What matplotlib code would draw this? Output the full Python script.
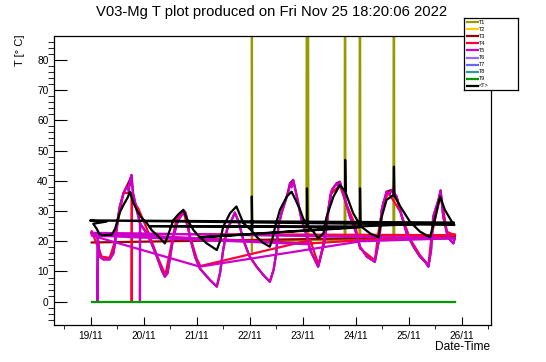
import matplotlib
matplotlib.use('Agg')
import matplotlib.pyplot as plt
from matplotlib.lines import Line2D

plt.rcParams['font.family'] = ['Liberation Sans', 'DejaVu Sans']

title_text = "V03-Mg T plot produced on Fri Nov 25 18:20:06 2022"
x_title = "Date-Time"
y_title = "T [\u00b0 C]"
x_tick_days = [0, 1, 2, 3, 4, 5, 6, 7]
x_tick_labels = ["19/11", "20/11", "21/11", "22/11", "23/11", "24/11", "25/11", "26/11"]
y_ticks = [0, 10, 20, 30, 40, 50, 60, 70, 80]

series_names = ["T1", "T2", "T3", "T4", "T5", "T6", "T7", "T8", "T9", "<T>"]
series_colors = ["#999900", "#ffcc00", "#990000", "#ff0033", "#cc00cc",
                 "#9966ff", "#6666ff", "#339999", "#009900", "#000000"]

# days since 19/11 00:00, in recorded (drawing) order
t1_day = [3.04, 3.04, 3.045, 4.07, 4.08, 4.085, 4.10, 4.105, 4.79, 4.80, 4.805,
          5.07, 5.08, 5.085, 5.71, 5.72, 5.725, 6.87]
t1_val = [16.6, 200.0, 20.2, 20.3, 200.0, 20.3, 200.0, 20.4, 20.5, 200.0, 20.5,
          20.6, 200.0, 20.6, 20.8, 200.0, 20.8, 21.0]

t2_day = []
t2_val = []

t3_day = [0.02, 0.11, 0.14, 0.175, 0.24, 0.36, 0.43, 0.46, 0.49, 0.55, 0.62, 0.68,
          0.74, 0.77, 0.80, 0.87, 0.93, 1.06, 1.15, 1.25, 1.34, 1.40, 1.45, 1.50,
          1.56, 1.65, 1.72, 1.78, 1.81, 1.87, 1.97, 2.06, 2.25, 2.38, 2.44, 2.50,
          2.57, 2.66, 2.72, 2.79, 2.88, 3.00, 3.13, 3.26, 3.38, 3.45, 3.50, 3.54,
          3.60, 3.70, 3.76, 3.82, 3.89, 3.98, 4.08, 4.14, 4.23, 4.29, 4.42, 4.48,
          4.55, 4.64, 4.70, 4.80, 4.89, 4.99, 5.08, 5.21, 5.36, 5.45, 5.49, 5.58,
          5.68, 5.77, 5.87, 5.96, 6.09, 6.21, 6.31, 6.37, 6.42, 6.46, 6.56, 6.60,
          6.65, 6.72, 6.78, 6.84, 6.87, 0.02]
t3_val = [22.8, 22.4, 20.4, 14.9, 14.0, 14.0, 16.0, 19.3, 24.8, 31.4, 35.9, 38.1,
          40.3, 41.9, 35.9, 30.4, 26.0, 22.6, 19.3, 14.9, 10.5, 8.3, 9.4, 14.9,
          21.5, 27.0, 28.7, 29.8, 28.1, 21.5, 14.9, 11.0, 7.2, 5.0, 9.4, 17.1,
          23.7, 27.0, 29.5, 26.5, 20.4, 14.9, 11.6, 8.8, 6.6, 10.5, 16.0, 24.8,
          29.3, 34.8, 39.2, 40.3, 34.8, 27.0, 21.5, 17.1, 13.8, 11.6, 20.4, 30.4,
          37.0, 39.2, 39.7, 33.7, 28.1, 23.7, 18.2, 14.9, 13.2, 21.5, 30.4, 36.4,
          37.0, 34.8, 28.1, 22.6, 18.2, 14.9, 13.2, 11.6, 17.1, 28.1, 33.7, 36.8,
          28.1, 22.6, 20.4, 19.3, 21.5, 19.6]

t4_day = [0.02, 0.21, 0.36, 0.46, 0.52, 0.62, 0.77, 0.775, 0.775, 0.78, 0.90, 1.06,
          1.25, 1.41, 1.50, 1.62, 1.75, 1.87, 2.00, 2.07,
          4.14, 4.30, 4.45, 4.52, 4.70, 4.83, 4.99, 5.08, 5.36, 5.43, 5.52, 5.62,
          5.84, 6.02, 6.21, 6.37, 6.43, 6.60, 6.72, 6.87,
          0.01, 4.14, 6.87]
t4_val = [23.3, 14.9, 14.5, 20.0, 27.0, 36.0, 36.0, 35.5, 0.0, 34.0, 30.8, 24.2,
          15.4, 8.8, 16.8, 27.5, 30.0, 22.0, 14.3, 11.8,
          20.4, 12.1, 24.3, 35.5, 38.5, 32.0, 25.3, 17.6, 13.7, 23.2, 33.0, 36.0,
          29.8, 20.9, 15.4, 12.1, 22.0, 35.5, 23.1, 22.0,
          22.5, 19.3, 22.2]

t5_day = [0.02, 0.11, 0.13, 0.13, 0.14, 0.175, 0.24, 0.36, 0.43, 0.46, 0.49, 0.55,
          0.62, 0.68, 0.72, 0.74, 0.76, 0.77, 0.80, 0.87, 0.93, 0.93, 0.935, 1.06,
          1.15, 1.25, 1.34, 1.40, 1.45, 1.50, 1.56, 1.65, 1.72, 1.78, 1.81, 1.87,
          1.97, 2.06, 2.25, 2.38, 2.44, 2.50, 2.57, 2.66, 2.72, 2.79, 2.88, 3.00,
          3.13, 3.26, 3.38, 3.45, 3.50, 3.54, 3.60, 3.70, 3.74, 3.76, 3.79, 3.82,
          3.89, 3.98, 4.08, 4.14, 4.23, 4.29, 4.42, 4.48, 4.55, 4.64, 4.67, 4.70,
          4.80, 4.89, 4.99, 5.08, 5.21, 5.36, 5.45, 5.49, 5.58, 5.64, 5.68, 5.77,
          5.87, 5.96, 6.09, 6.21, 6.31, 6.37, 6.42, 6.46, 6.56, 6.60, 6.65, 6.72,
          6.78, 6.84, 6.87,
          0.01, 4.12, 0.02, 2.06, 5.10, 6.86]
t5_val = [22.8, 22.4, 21.8, 0.0, 20.4, 14.9, 14.0, 14.0, 16.0, 19.3, 24.8, 31.4,
          35.9, 38.1, 36.5, 40.3, 38.5, 41.9, 35.9, 30.4, 26.0, 0.0, 25.8, 22.6,
          19.3, 14.9, 10.5, 8.3, 9.4, 14.9, 21.5, 27.0, 28.7, 29.8, 28.1, 21.5,
          14.9, 11.0, 7.2, 5.0, 9.4, 17.1, 23.7, 27.0, 29.5, 26.5, 20.4, 14.9,
          11.6, 8.8, 6.6, 10.5, 16.0, 24.8, 29.3, 34.8, 37.0, 39.2, 37.8, 40.3,
          34.8, 27.0, 21.5, 17.1, 13.8, 11.6, 20.4, 30.4, 37.0, 39.2, 37.8, 39.7,
          33.7, 28.1, 23.7, 18.2, 14.9, 13.2, 21.5, 30.4, 36.4, 35.5, 37.0, 34.8,
          28.1, 22.6, 18.2, 14.9, 13.2, 11.6, 17.1, 28.1, 33.7, 36.8, 28.1, 22.6,
          20.4, 19.3, 21.0,
          22.8, 19.0, 21.9, 11.6, 20.0, 21.0]

t6_day, t6_val = [], []
t7_day, t7_val = [], []
t8_day, t8_val = [], []

t9_day = [0.02, 6.88]
t9_val = [0.0, 0.0]

avg_day = [0.00, 0.30, 0.05, 0.12, 0.16, 0.22, 0.40, 0.46, 0.55, 0.62, 0.70, 0.74,
           0.80, 0.87, 0.95, 1.06, 1.16, 1.25, 1.40, 1.46, 1.56, 1.66, 1.75, 1.81,
           1.94, 2.05, 2.19, 2.38, 2.44, 2.50, 2.63, 2.75, 2.88, 3.04, 3.04, 3.05,
           3.13, 3.25, 3.38, 3.43, 3.48, 3.57, 3.70, 3.79, 3.87, 3.95, 4.01, 4.08,
           4.08, 4.09, 4.20, 4.29, 4.39, 4.45, 4.58, 4.70, 4.80, 4.80, 4.81, 4.95,
           5.08, 5.08, 5.09, 5.27, 5.43, 5.49, 5.58, 5.71, 5.72, 5.73, 5.84, 6.02,
           6.21, 6.40, 6.50, 6.59, 6.68, 6.81, 6.86,
           0.00, 6.85, 5.06, 1.10, 5.07, 2.06, 5.08]
avg_val = [26.8, 26.5, 25.8, 24.0, 22.5, 22.0, 22.2, 24.0, 29.5, 32.0, 34.5, 36.4,
           33.0, 30.4, 28.0, 26.0, 23.5, 22.1, 19.3, 22.0, 27.0, 29.0, 30.4, 27.6,
           23.7, 21.5, 19.3, 17.1, 20.0, 24.8, 29.3, 31.5, 26.0, 23.5, 34.8, 23.2,
           21.5, 19.5, 18.2, 21.0, 24.8, 30.4, 34.8, 36.4, 33.5, 30.4, 27.5, 25.5,
           37.5, 25.0, 23.2, 21.0, 22.6, 28.1, 34.8, 38.6, 36.5, 46.9, 36.0, 29.3,
           25.4, 37.5, 25.0, 22.6, 21.3, 28.1, 33.7, 35.3, 44.7, 35.0, 31.5, 26.5,
           23.2, 21.3, 28.1, 34.8, 30.4, 26.5, 25.4,
           26.9, 26.2, 24.9, 25.0, 24.6, 21.3, 24.8]

all_days = [t1_day, t2_day, t3_day, t4_day, t5_day, t6_day, t7_day, t8_day, t9_day, avg_day]
all_vals = [t1_val, t2_val, t3_val, t4_val, t5_val, t6_val, t7_val, t8_val, t9_val, avg_val]

W, H = 546, 362
fig = plt.figure(figsize=(W / 100, H / 100), dpi=100)
ax = fig.add_axes([54 / W, (H - 325) / H, 437 / W, 289 / H])

for d, v, c in zip(all_days, all_vals, series_colors):
    ax.plot(d, v, color=c, lw=1.6)

ax.set_xlim(-0.69, 7.55)
ax.set_ylim(-7.7, 87.9)
ax.set_xticks(x_tick_days)
ax.set_xticklabels(x_tick_labels)
ax.set_xticks([d + 0.5 for d in range(-1, 8)], minor=True)
ax.set_yticks(y_ticks)
ax.set_yticks(list(range(-6, 88, 2)), minor=True)
ax.tick_params(axis='both', direction='in', labelsize=7.3, colors='black', width=0.8)
ax.tick_params(axis='x', which='major', length=6, pad=4)
ax.tick_params(axis='x', which='minor', length=3)
ax.tick_params(axis='y', which='major', length=9, pad=4)
ax.tick_params(axis='y', which='minor', length=4.5)
ax.tick_params(top=False, right=False, which='both')
for s in ax.spines.values():
    s.set_linewidth(0.9)

fig.text(272 / W, 1 - 12 / H, title_text, ha='center', va='center', fontsize=10.6)
fig.text(20 / W, 1 - 35 / H, y_title, ha='center', va='top', rotation=90, fontsize=8)
fig.text(490 / W, 1 - 347 / H, x_title, ha='right', va='center', fontsize=8.6)

# legend box
lax = fig.add_axes([464 / W, (H - 90) / H, 54 / W, 72 / H])
lax.set_xlim(0, 1)
lax.set_ylim(0, 1)
lax.set_xticks([])
lax.set_yticks([])
lax.set_facecolor('white')
for s in lax.spines.values():
    s.set_linewidth(0.9)
n = len(series_names)
for i, (name, c) in enumerate(zip(series_names, series_colors)):
    yy = 1 - (i + 0.6) / (n + 0.2)
    lax.add_line(Line2D([0.05, 0.25], [yy, yy], color=c, lw=1.6))
    lax.text(0.28, yy, name, fontsize=4, va='center', ha='left')

fig.savefig("out.png", dpi=100)
